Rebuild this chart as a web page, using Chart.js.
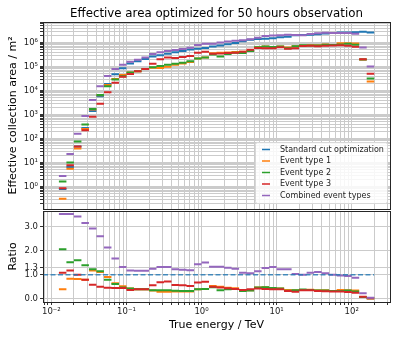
<!DOCTYPE html>
<html lang="en">
  <head>
    <meta charset="UTF-8" />
    <title>Effective area optimized for 50 hours observation</title>
    <script src="https://cdn.jsdelivr.net/npm/chart.js"></script>
    <style>
      body { margin: 0; background: #fff; }
      #wrap { position: relative; width: 399px; height: 342px; }
      canvas { position: absolute; left: 0; }
      #areaChart { top: 0; }
      #ratioChart { top: 209px; }
    </style>
  </head>
  <body>
    <div id="wrap">
      <canvas id="areaChart" width="399" height="211"></canvas>
      <canvas id="ratioChart" width="399" height="133"></canvas>
    </div>

    <script>
      // energy bin edges in TeV (10 bins per decade)
      const binEdges = [
        0.01259, 0.01585, 0.01995, 0.02512, 0.03162, 0.03981, 0.05012, 0.0631, 0.07943,
        0.1, 0.1259, 0.1585, 0.1995, 0.2512, 0.3162, 0.3981, 0.5012, 0.631, 0.7943,
        1, 1.259, 1.585, 1.995, 2.512, 3.162, 3.981, 5.012, 6.31, 7.943,
        10, 12.59, 15.85, 19.95, 25.12, 31.62, 39.81, 50.12, 63.1, 79.43,
        100, 125.9, 158.5, 199.5
      ];

      const seriesLabels = ["Standard cut optimization", "Event type 1", "Event type 2", "Event type 3", "Combined event types"];
      const seriesColors = ["#1f77b4", "#ff7f0e", "#2ca02c", "#d62728", "#9467bd"];

      // effective area, m^2
      const standardArea = [0.8, 6.6, 47, 280, 1400, 5800, 19000, 48000, 86000, 135000, 165000, 205000, 265000, 300000, 340000, 400000, 450000, 520000, 560000, 600000, 680000, 760000, 850000, 950000, 1150000, 1300000, 1400000, 1450000, 1500000, 1650000, 1750000, 2000000, 2050000, 2100000, 2200000, 2400000, 2500000, 2600000, 2650000, 2700000, 2800000, 2650000];
      const type1Area = [0.31, 5.5, 39, 250, 1640, 6400, 17100, 30700, 44700, 56700, 64000, 80000, 90000, 87000, 98600, 120000, 135000, 156000, 218000, 240000, 360000, 380000, 383000, 408000, 414000, 455000, 644000, 680000, 660000, 693000, 630000, 700000, 738000, 777000, 770000, 840000, 800000, 936000, 928000, 918000, 196000, 23800];
      const type2Area = [1.65, 10, 75, 390, 1710, 6600, 15000, 29300, 39600, 56700, 64400, 80000, 92800, 105000, 119000, 132000, 144000, 166000, 218000, 240000, 320000, 266000, 332000, 380000, 368000, 442000, 644000, 682000, 660000, 693000, 578000, 700000, 779000, 756000, 748000, 816000, 800000, 832000, 901000, 810000, 196000, 31800];
      const type3Area = [0.86, 7.7, 47, 221, 812, 2840, 8550, 21100, 37800, 48600, 64400, 80000, 130000, 204000, 241000, 228000, 252000, 276000, 375000, 420000, 340000, 350000, 366000, 380000, 414000, 507000, 588000, 580000, 585000, 644000, 560000, 580000, 718000, 735000, 704000, 744000, 750000, 780000, 742000, 675000, 200000, 50000];
      const combinedArea = [2.8, 23, 161, 880, 4090, 15100, 40500, 80000, 120000, 158000, 191000, 238000, 331000, 396000, 449000, 488000, 540000, 614000, 800000, 900000, 904000, 1010000, 1100000, 1190000, 1240000, 1380000, 1600000, 1860000, 1980000, 2010000, 2140000, 2060000, 2030000, 2270000, 2440000, 2540000, 2500000, 2500000, 2490000, 2350000, 620000, 100000];

      // ratio to the standard cut optimization
      const type1Ratio = [0.39, 0.83, 0.82, 0.79, 1.17, 1.11, 0.9, 0.64, 0.52, 0.42, 0.39, 0.39, 0.34, 0.29, 0.29, 0.3, 0.3, 0.3, 0.39, 0.4, 0.53, 0.5, 0.45, 0.43, 0.36, 0.35, 0.46, 0.47, 0.44, 0.42, 0.36, 0.35, 0.36, 0.37, 0.35, 0.35, 0.32, 0.36, 0.35, 0.34, 0.07, 0.009];
      const type2Ratio = [2.06, 1.52, 1.6, 1.39, 1.22, 1.14, 0.79, 0.61, 0.46, 0.42, 0.39, 0.39, 0.35, 0.35, 0.35, 0.33, 0.32, 0.32, 0.39, 0.4, 0.47, 0.35, 0.39, 0.4, 0.32, 0.34, 0.46, 0.47, 0.44, 0.42, 0.33, 0.35, 0.38, 0.36, 0.34, 0.34, 0.32, 0.32, 0.34, 0.3, 0.07, 0.012];
      const type3Ratio = [1.08, 1.17, 1.0, 0.79, 0.58, 0.49, 0.45, 0.44, 0.44, 0.36, 0.39, 0.39, 0.56, 0.68, 0.71, 0.57, 0.56, 0.53, 0.67, 0.7, 0.5, 0.46, 0.43, 0.4, 0.36, 0.39, 0.42, 0.4, 0.39, 0.39, 0.32, 0.29, 0.35, 0.35, 0.32, 0.31, 0.3, 0.3, 0.28, 0.25, 0.075, 0.019];
      const combinedRatio = [3.52, 3.52, 3.42, 3.15, 2.92, 2.6, 2.13, 1.67, 1.32, 1.17, 1.16, 1.16, 1.25, 1.32, 1.32, 1.22, 1.2, 1.18, 1.43, 1.5, 1.33, 1.33, 1.29, 1.25, 1.08, 1.06, 1.14, 1.28, 1.32, 1.22, 1.22, 1.03, 0.99, 1.08, 1.11, 1.06, 1.0, 0.96, 0.94, 0.87, 0.22, 0.04];
      const ratioTicks = [0, 1, 1.3, 2, 3];

      const xMin = 0.00773, xMax = 324;
      const areaMin = 0.117, areaMax = 7.2e6;
      const ratioMin = -0.14, ratioMax = 3.65;

      const FONT = "DejaVu Sans";
      const gridColor = "#cbcbcb";
      const sup = { "0": "⁰", "1": "¹", "2": "²", "3": "³", "4": "⁴", "5": "⁵", "6": "⁶", "7": "⁷", "8": "⁸", "9": "⁹", "-": "⁻" };

      // horizontal step per bin, broken between bins
      function stepData(values) {
        const pts = [];
        values.forEach((v, i) => {
          pts.push({ x: binEdges[i], y: v }, { x: binEdges[i + 1], y: v }, { x: binEdges[i + 1], y: null });
        });
        return pts;
      }

      // log ticks at 1..9 x 10^n, decades carry a label
      function logTicks(min, max) {
        const ticks = [];
        for (let e = Math.floor(Math.log10(min)); e <= Math.ceil(Math.log10(max)); e++) {
          for (let k = 1; k < 10; k++) {
            const v = k * Math.pow(10, e);
            if (v >= min && v <= max) ticks.push({ value: v, decade: k === 1 ? e : null });
          }
        }
        return ticks;
      }
      function decadeLabel(value, index, ticks) {
        const e = ticks[index].decade;
        if (e === null || e === undefined) return "";
        return "10" + String(e).split("").map((c) => sup[c]).join("");
      }

      // fixed axis sizes, no extra padding for edge labels
      function fixWidth(w) {
        return (s) => { s.width = w; s.paddingTop = 0; s.paddingBottom = 0; };
      }
      function fixHeight(h) {
        return (s) => { s.height = h; s.paddingLeft = 0; s.paddingRight = 0; };
      }

      function stepDataset(label, values, color, order) {
        return {
          label: label,
          data: stepData(values),
          borderColor: color,
          borderWidth: 2,
          pointRadius: 0,
          spanGaps: false,
          order: order,
        };
      }

      const framePlugin = {
        id: "frame",
        afterDraw(chart) {
          const { ctx, chartArea: a } = chart;
          ctx.save();
          ctx.strokeStyle = "#262626";
          ctx.lineWidth = 1;
          ctx.strokeRect(Math.round(a.left) + 0.5, Math.round(a.top) + 0.5, Math.round(a.right - a.left), Math.round(a.bottom - a.top));
          ctx.restore();
        },
      };

      const titlePlugin = {
        id: "plotTitle",
        afterDraw(chart) {
          const { ctx, chartArea: a } = chart;
          ctx.save();
          ctx.font = "11.8px '" + FONT + "'";
          ctx.fillStyle = "#000";
          ctx.textAlign = "center";
          ctx.textBaseline = "middle";
          ctx.fillText("Effective area optimized for 50 hours observation", (a.left + a.right) / 2, 13.5);
          ctx.restore();
        },
      };

      const legendPlugin = {
        id: "boxLegend",
        afterDraw(chart) {
          const { ctx, chartArea: a } = chart;
          const w = 132, h = 61;
          const x0 = a.right - w - 3, y0 = a.bottom - h - 6;
          ctx.save();
          ctx.fillStyle = "rgba(255,255,255,0.85)";
          ctx.strokeStyle = "#d8d8d8";
          ctx.lineWidth = 1;
          ctx.beginPath();
          ctx.roundRect(x0 + 0.5, y0 + 0.5, w, h, 2);
          ctx.fill();
          ctx.stroke();
          ctx.font = "8px '" + FONT + "'";
          ctx.textBaseline = "middle";
          seriesLabels.forEach((label, i) => {
            const y = y0 + 7.5 + i * 11.5;
            ctx.strokeStyle = seriesColors[i];
            ctx.lineWidth = 1.5;
            ctx.beginPath();
            ctx.moveTo(x0 + 7, y);
            ctx.lineTo(x0 + 15, y);
            ctx.stroke();
            ctx.fillStyle = "#222";
            ctx.fillText(label, x0 + 25, y);
          });
          ctx.restore();
        },
      };

      new Chart(document.getElementById("areaChart"), {
        type: "line",
        data: {
          datasets: [
            stepDataset(seriesLabels[0], standardArea, seriesColors[0], 4),
            stepDataset(seriesLabels[1], type1Area, seriesColors[1], 3),
            stepDataset(seriesLabels[2], type2Area, seriesColors[2], 2),
            stepDataset(seriesLabels[3], type3Area, seriesColors[3], 1),
            stepDataset(seriesLabels[4], combinedArea, seriesColors[4], 0),
          ],
        },
        options: {
          responsive: false,
          animation: false,
          layout: { padding: { top: 22, right: 9, left: 0, bottom: 2 } },
          plugins: { legend: { display: false }, tooltip: { enabled: false } },
          scales: {
            x: {
              type: "logarithmic",
              min: xMin,
              max: xMax,
              afterBuildTicks: (s) => { s.ticks = logTicks(xMin, xMax); },
              ticks: { display: false },
              grid: { color: gridColor, drawTicks: false },
              border: { display: false },
              afterFit: fixHeight(0),
            },
            y: {
              type: "logarithmic",
              min: areaMin,
              max: areaMax,
              afterBuildTicks: (s) => { s.ticks = logTicks(areaMin, areaMax); },
              ticks: { callback: decadeLabel, autoSkip: false, padding: 2, color: "#222", font: { family: FONT, size: 8.5 } },
              grid: { color: gridColor, tickLength: 3, tickColor: "#333" },
              border: { display: false },
              title: { display: true, text: "Effective collection area / m²", color: "#000", font: { family: FONT, size: 11 }, padding: { top: 7 } },
              afterFit: fixWidth(43),
            },
          },
        },
        plugins: [framePlugin, titlePlugin, legendPlugin],
      });

      new Chart(document.getElementById("ratioChart"), {
        type: "line",
        data: {
          datasets: [
            {
              label: seriesLabels[0],
              data: [{ x: xMin, y: 1 }, { x: binEdges[binEdges.length - 1], y: 1 }],
              borderColor: "rgba(31,119,180,0.8)",
              borderWidth: 1.5,
              borderDash: [5, 2.5],
              pointRadius: 0,
              order: 0,
            },
            stepDataset(seriesLabels[1], type1Ratio, seriesColors[1], 4),
            stepDataset(seriesLabels[2], type2Ratio, seriesColors[2], 3),
            stepDataset(seriesLabels[3], type3Ratio, seriesColors[3], 2),
            stepDataset(seriesLabels[4], combinedRatio, seriesColors[4], 1),
          ],
        },
        options: {
          responsive: false,
          animation: false,
          layout: { padding: { top: 2, right: 9, left: 0, bottom: 0 } },
          plugins: { legend: { display: false }, tooltip: { enabled: false } },
          scales: {
            x: {
              type: "logarithmic",
              min: xMin,
              max: xMax,
              afterBuildTicks: (s) => { s.ticks = logTicks(xMin, xMax); },
              ticks: { callback: decadeLabel, autoSkip: false, maxRotation: 0, padding: 2, color: "#222", font: { family: FONT, size: 8.5 } },
              grid: { color: gridColor, tickLength: 3, tickColor: "#333" },
              border: { display: false },
              title: { display: true, text: "True energy / TeV", color: "#000", font: { family: FONT, size: 11 }, padding: { top: 0, bottom: 10 } },
              afterFit: fixHeight(40),
            },
            y: {
              min: ratioMin,
              max: ratioMax,
              afterBuildTicks: (s) => { s.ticks = ratioTicks.map((v) => ({ value: v })); },
              ticks: { callback: (v) => v.toFixed(1), autoSkip: false, padding: 2, color: "#222", font: { family: FONT, size: 8.5 } },
              grid: { color: gridColor, tickLength: 3, tickColor: "#333" },
              border: { display: false },
              title: { display: true, text: "Ratio", color: "#000", font: { family: FONT, size: 11 }, padding: { top: 7 } },
              afterFit: fixWidth(43),
            },
          },
        },
        plugins: [framePlugin],
      });
    </script>
  </body>
</html>
